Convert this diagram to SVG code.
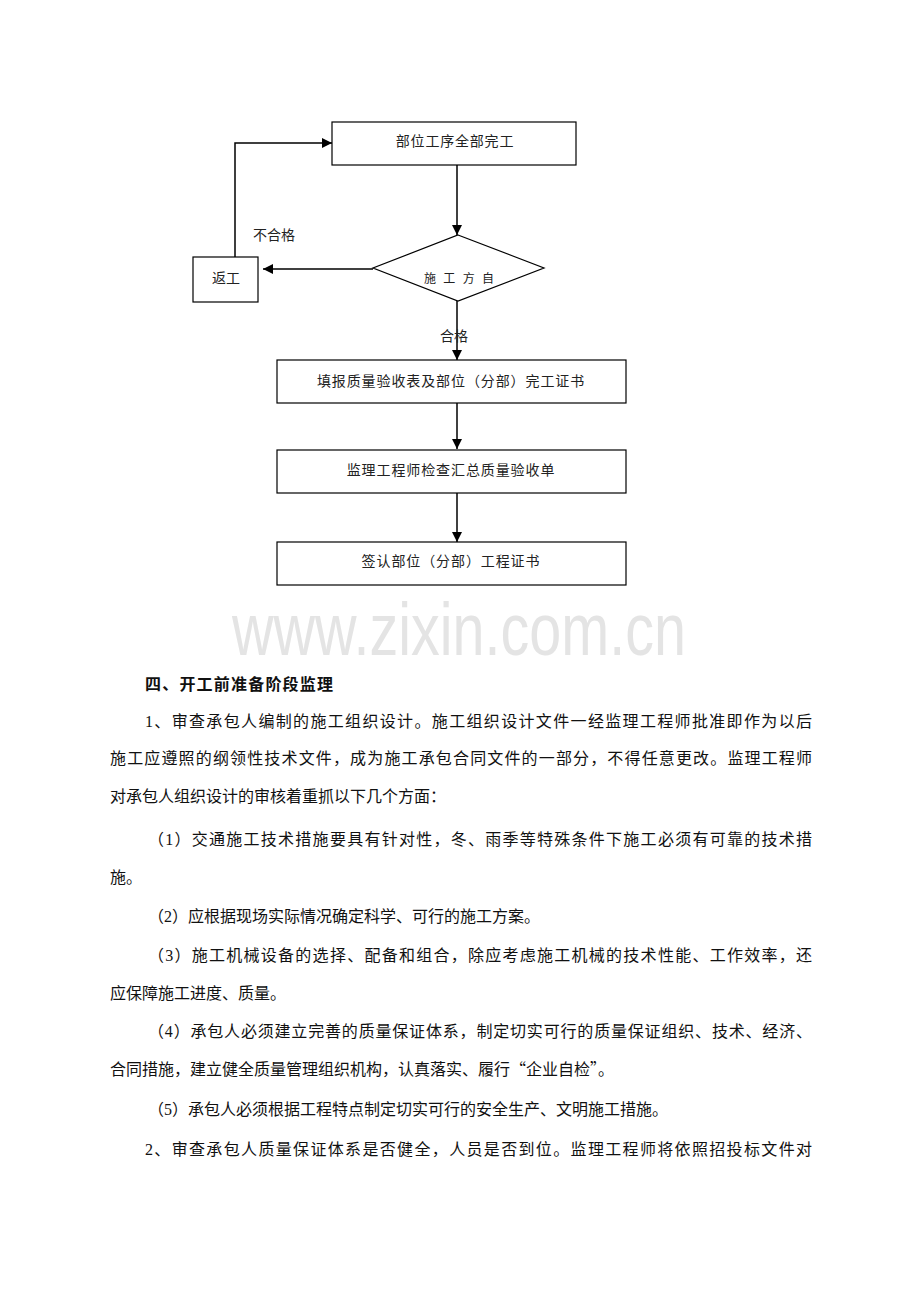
<svg xmlns="http://www.w3.org/2000/svg" width="920" height="1302" viewBox="0 0 920 1302">
<style>
  .bg{fill:#ffffff}
  .box{fill:#ffffff;stroke:#000000;stroke-width:1.2}
  .edge{fill:none;stroke:#000000;stroke-width:1.5}
  .lbl{font-family:"Liberation Serif","Noto Sans CJK SC",serif;font-size:14px;fill:#222222;text-anchor:middle}
  .small{font-family:"Liberation Serif","Noto Sans CJK SC",serif;font-size:12px;fill:#222222;text-anchor:middle}
  .body{font-family:"Liberation Serif","Noto Sans CJK SC",serif;font-size:16px;fill:#111111}
  .cjk{font-family:"Noto Sans CJK SC",sans-serif}
  .head{font-family:"Liberation Serif","Noto Sans CJK SC",serif;font-size:16px;font-weight:bold;fill:#111111}
  .wm{font-family:"Liberation Sans",Arial,sans-serif;font-size:74px;fill:#e4e4e4}
</style>
<defs>
  <marker id="arr" viewBox="0 0 10 10" refX="10" refY="5" markerWidth="10" markerHeight="10" markerUnits="userSpaceOnUse" orient="auto">
    <path d="M0,0 L10,5 L0,10 Z" fill="#000000"/>
  </marker>
</defs>
<rect class="bg" x="0" y="0" width="920" height="1302"/>

<g id="connectors">
  <line class="edge" x1="457" y1="165" x2="457" y2="235" marker-end="url(#arr)"/>
  <line class="edge" x1="373" y1="269" x2="263" y2="269" marker-end="url(#arr)"/>
  <polyline class="edge" points="235,257 235,143 332,143" marker-end="url(#arr)"/>
  <line class="edge" x1="457" y1="301" x2="457" y2="360" marker-end="url(#arr)"/>
  <line class="edge" x1="457" y1="402" x2="457" y2="449" marker-end="url(#arr)"/>
  <line class="edge" x1="457" y1="493" x2="457" y2="542" marker-end="url(#arr)"/>
  <text class="lbl" x="274" y="240">不合格</text>
  <text class="lbl" x="454" y="341">合格</text>
</g>

<g id="node-complete">
  <rect class="box" x="332" y="122" width="244" height="43"/>
  <text class="lbl" x="455" y="146" letter-spacing="0.8">部位工序全部完工</text>
</g>
<g id="node-decision">
  <polygon class="box" points="458,235 544,268 458,301 373,268"/>
  <text class="small" x="459" y="283" textLength="70" lengthAdjust="spacing">施 工 方 自</text>
</g>
<g id="node-rework">
  <rect class="box" x="193" y="257" width="65" height="45"/>
  <text class="lbl" x="226" y="283">返工</text>
</g>
<g id="node-fill">
  <rect class="box" x="277" y="360" width="349" height="43"/>
  <text class="lbl" x="451" y="386" letter-spacing="0.9">填报质量验收表及部位（分部）完工证书</text>
</g>
<g id="node-check">
  <rect class="box" x="277" y="450" width="349" height="43"/>
  <text class="lbl" x="451" y="475" letter-spacing="0.9">监理工程师检查汇总质量验收单</text>
</g>
<g id="node-sign">
  <rect class="box" x="277" y="542" width="349" height="43"/>
  <text class="lbl" x="451" y="566" letter-spacing="0.9">签认部位（分部）工程证书</text>
</g>

<text class="wm" x="232" y="655" textLength="454" lengthAdjust="spacingAndGlyphs">www.zixin.com.cn</text>

<g id="body-text">
  <text class="head" x="145" y="690" textLength="188" lengthAdjust="spacing">四、开工前准备阶段监理</text>
  <text class="body" x="145" y="727" textLength="667" lengthAdjust="spacing">1、审查承包人编制的施工组织设计。施工组织设计文件一经监理工程师批准即作为以后</text>
  <text class="body" x="110" y="764" textLength="702" lengthAdjust="spacing">施工应遵照的纲领性技术文件，成为施工承包合同文件的一部分，不得任意更改。监理工程师</text>
  <text class="body" x="110" y="802">对承包人组织设计的审核着重抓以下几个方面：</text>
  <text class="body" x="148" y="845" textLength="664" lengthAdjust="spacing">（1）交通施工技术措施要具有针对性，冬、雨季等特殊条件下施工必须有可靠的技术措</text>
  <text class="body" x="110" y="883">施。</text>
  <text class="body" x="148" y="922">（2）应根据现场实际情况确定科学、可行的施工方案。</text>
  <text class="body" x="148" y="961" textLength="664" lengthAdjust="spacing">（3）施工机械设备的选择、配备和组合，除应考虑施工机械的技术性能、工作效率，还</text>
  <text class="body" x="110" y="999">应保障施工进度、质量。</text>
  <text class="body" x="148" y="1037" textLength="664" lengthAdjust="spacing">（4）承包人必须建立完善的质量保证体系，制定切实可行的质量保证组织、技术、经济、</text>
  <text class="body" x="110" y="1075">合同措施，建立健全质量管理组织机构，认真落实、履行<tspan class="cjk">“</tspan>企业自检<tspan class="cjk">”</tspan>。</text>
  <text class="body" x="148" y="1115">（5）承包人必须根据工程特点制定切实可行的安全生产、文明施工措施。</text>
  <text class="body" x="145" y="1155" textLength="667" lengthAdjust="spacing">2、审查承包人质量保证体系是否健全，人员是否到位。监理工程师将依照招投标文件对</text>
</g>
</svg>
